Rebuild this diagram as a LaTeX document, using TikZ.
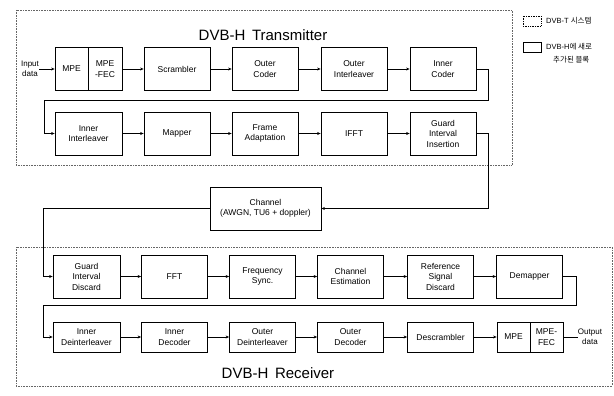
\documentclass[tikz,border=0pt]{standalone}
\usepackage{fontspec}
\setmainfont{Liberation Sans}
\newfontfamily\krfont{Noto Sans CJK KR}
\usetikzlibrary{arrows.meta}
\begin{document}
\begin{tikzpicture}[x=1pt,y=-1pt,
  blk/.style={draw, line width=0.8pt, align=center, inner sep=0pt, font=\fontsize{8.5}{10.5}\selectfont, minimum height=43pt, minimum width=66pt},
  low/.style={minimum height=30pt},
  narrow/.style={minimum width=33pt},
  link/.style={line width=0.8pt, -{Stealth[length=3.5pt,width=3pt]}},
  wire/.style={line width=0.8pt},
  frame/.style={densely dotted, line width=0.6pt, draw=black!60},
  ttl/.style={font=\fontsize{15}{18}\selectfont},
  lbl/.style={align=center, inner sep=0pt, font=\fontsize{8}{10}\selectfont},
  leg/.style={align=left, inner sep=0pt, anchor=west, font=\fontsize{7.5}{10}\selectfont}]
\useasboundingbox (0,0) rectangle (614,396);

% frames
\draw[frame] (16,10) rectangle (512,165);
\draw[frame] (16,247) rectangle (612,386);

% titles
\node[ttl] (ttx) at (263,35) {DVB-H\, Transmitter};
\node[ttl] (trx) at (278,373) {DVB-H\, Receiver};

% legend
\node[draw, densely dotted, line width=0.7pt, minimum width=18pt, minimum height=10pt, inner sep=0pt] (lg1) at (532,21) {};
\node[leg] (lt1) at (546,21) {DVB-T {\krfont 시스템}};
\node[draw, line width=0.7pt, minimum width=18pt, minimum height=10pt, inner sep=0pt] (lg2) at (532,47) {};
\node[leg] (lt2) at (546,47) {DVB-H{\krfont 에 새로}};
\node[leg] (lt3) at (553,60) {\krfont 추가된 블록};

% transmitter row 1
\node[lbl] (in) at (30,69) {Input\\data};
\node[blk, narrow] (mpe) at (71.5,69) {MPE};
\node[blk, minimum width=34pt] (mpefec) at (105,69) {MPE\\-FEC};
\node[blk] (scr) at (177,69) {Scrambler};
\node[blk] (oc) at (265,69) {Outer\\Coder};
\node[blk] (oi) at (354,69) {Outer\\Interleaver};
\node[blk] (ic) at (443,69) {Inner\\Coder};
% transmitter row 2
\node[blk, minimum width=67pt] (ii) at (88.5,133.5) {Inner\\Interleaver};
\node[blk] (map) at (177,133.5) {Mapper};
\node[blk] (fa) at (265,133.5) {Frame\\Adaptation};
\node[blk] (ifft) at (354,133.5) {IFFT};
\node[blk] (gii) at (443,133.5) {Guard\\Interval\\Insertion};

% channel
\node[blk, minimum width=111pt] (ch) at (265.5,208.5) {Channel\\(AWGN, TU6 + doppler)};

% receiver row 1
\node[blk, minimum width=67pt] (gid) at (86.5,276.5) {Guard\\Interval\\Discard};
\node[blk] (fft) at (174.5,276.5) {FFT};
\node[blk] (fs) at (262.5,276.5) {Frequency\\Sync.};
\node[blk] (ce) at (350.5,276.5) {Channel\\Estimation};
\node[blk] (rsd) at (440.5,276.5) {Reference\\Signal\\Discard};
\node[blk] (dem) at (529.5,276.5) {Demapper};
% receiver row 2
\node[blk, low, minimum width=67pt] (idi) at (86.5,337) {Inner\\Deinterleaver};
\node[blk, low] (idc) at (174.5,337) {Inner\\Decoder};
\node[blk, low] (odi) at (262.5,337) {Outer\\Deinterleaver};
\node[blk, low] (odc) at (350.5,337) {Outer\\Decoder};
\node[blk, low] (dsc) at (440.5,337) {Descrambler};
\node[blk, low, narrow] (rmpe) at (513.5,337) {MPE};
\node[blk, low, narrow] (rfec) at (546.5,337) {MPE-\\FEC};
\node[lbl] (out) at (590,337) {Output\\data};

% transmitter connectors
\draw[link] (in.east) -- (mpe.west);
\draw[link] (mpefec) -- (scr);
\draw[link] (scr) -- (oc);
\draw[link] (oc) -- (oi);
\draw[link] (oi) -- (ic);
\coordinate (t1) at (488,69);
\coordinate (t2) at (488,100);
\coordinate (t3) at (44,100);
\coordinate (t4) at (44,133.5);
\draw[link] (ic.east) -- (t1) -- (t2) -- (t3) -- (t4) -- (ii.west);
\draw[link] (ii) -- (map);
\draw[link] (map) -- (fa);
\draw[link] (fa) -- (ifft);
\draw[link] (ifft) -- (gii);
\coordinate (g1) at (488,133.5);
\coordinate (g2) at (488,208.5);
\draw[link] (gii.east) -- (g1) -- (g2) -- (ch.east);

% channel to receiver
\coordinate (c1) at (43,208.5);
\coordinate (c2) at (43,276.5);
\draw[link] (ch.west) -- (c1) -- (c2) -- (gid.west);

% receiver connectors
\draw[link] (gid) -- (fft);
\draw[link] (fft) -- (fs);
\draw[link] (fs) -- (ce);
\draw[link] (ce) -- (rsd);
\draw[link] (rsd) -- (dem);
\coordinate (r1) at (576,276.5);
\coordinate (r2) at (576,305);
\coordinate (r3) at (43,305);
\coordinate (r4) at (43,337);
\draw[link] (dem.east) -- (r1) -- (r2) -- (r3) -- (r4) -- (idi.west);
\draw[link] (idi) -- (idc);
\draw[link] (idc) -- (odi);
\draw[link] (odi) -- (odc);
\draw[link] (odc) -- (dsc);
\draw[link] (dsc) -- (rmpe);
\draw[wire] (rfec.east) -- (out.west);
\end{tikzpicture}
\end{document}
